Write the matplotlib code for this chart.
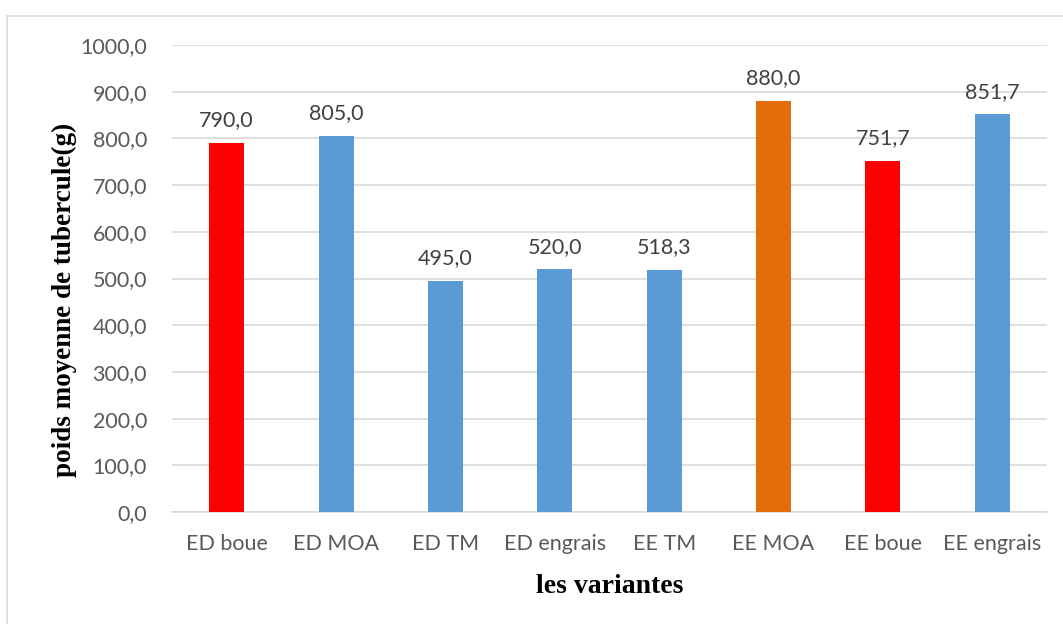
import matplotlib
matplotlib.use("Agg")
import matplotlib.pyplot as plt
from matplotlib.patches import Rectangle
from matplotlib.ticker import FuncFormatter

categories = ["ED boue", "ED MOA", "ED TM", "ED engrais", "EE TM", "EE MOA", "EE boue", "EE engrais"]
values = [790.0, 805.0, 495.0, 520.0, 518.3, 880.0, 751.7, 851.7]
colors = ["#FF0000", "#5B9BD5", "#5B9BD5", "#5B9BD5", "#5B9BD5", "#E46C0A", "#FF0000", "#5B9BD5"]
yticks = [0, 100, 200, 300, 400, 500, 600, 700, 800, 900, 1000]

W, H = 1063, 624
fig = plt.figure(figsize=(W / 100, H / 100), dpi=100)
ax = fig.add_axes([172 / W, 1 - 512 / H, (1047 - 172) / W, (512 - 45) / H])

# outer chart border (left and top visible)
fig.patches.append(Rectangle((7 / W, -0.2), 1.2, 1 - 16 / H + 0.2, transform=fig.transFigure,
                             fill=False, edgecolor="#D9D9D9", linewidth=1.2))

x = list(range(len(categories)))
bars = ax.bar(x, values, width=0.32, color=colors, zorder=3)

tick_font = "Lato"
text_col = "#595959"
for b, v in zip(bars, values):
    ax.annotate(f"{v:.1f}".replace(".", ","), (b.get_x() + b.get_width() / 2, v),
                xytext=(0, 9), textcoords="offset points", ha="center", va="bottom",
                fontsize=15.5, color="#404040", family=tick_font)

ax.set_xlim(-0.5, len(categories) - 0.5)
ax.set_ylim(0, 1000)
ax.set_yticks(yticks)
ax.yaxis.set_major_formatter(FuncFormatter(lambda v, p: f"{v:.1f}".replace(".", ",")))
ax.set_xticks(x)
ax.set_xticklabels(categories)
ax.grid(axis="y", color="#D9D9D9", linewidth=1.2, zorder=0)
for s in ["top", "right", "left"]:
    ax.spines[s].set_visible(False)
ax.spines["bottom"].set_color("#D9D9D9")
ax.spines["bottom"].set_linewidth(1.2)
ax.tick_params(axis="both", length=0, labelsize=15.5, labelcolor=text_col)
ax.tick_params(axis="y", pad=18)
ax.tick_params(axis="x", pad=16)
for lab in ax.get_xticklabels() + ax.get_yticklabels():
    lab.set_family(tick_font)

ax.set_ylabel("poids moyenne de tubercule(g)", fontsize=19.5, fontweight="bold",
              family="Liberation Serif", color="black")
ax.yaxis.set_label_coords((77 - 172) / 875, (512 - 300) / 467)
ax.set_xlabel("les variantes", fontsize=20, fontweight="bold",
              family="Liberation Serif", color="black", labelpad=14)

fig.savefig("out.png", dpi=100)
